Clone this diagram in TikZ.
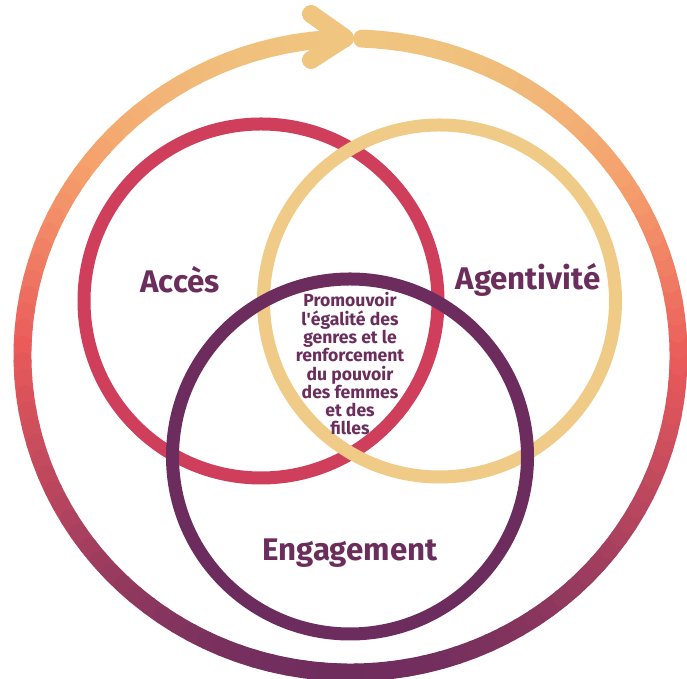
\documentclass[tikz,border=0pt]{standalone}
\usepackage{fontspec}
\setmainfont{Fira Sans}
\usepackage{tikz}

\definecolor{accesred}{HTML}{CF3F5C}
\definecolor{agentyellow}{HTML}{EFCB87}
\definecolor{engpurple}{HTML}{6D2C5E}
\definecolor{labelpurple}{HTML}{6B2D5C}
\definecolor{ringtop}{HTML}{F0C57F}

% one colour channel of the outer ring, piecewise from top (0) to bottom (1)
\newcommand{\ringchan}[6]{%
  \pgfmathsetmacro#1{(\f<0.22 ? #2+(#3-#2)*\f/0.22 : (\f<0.5 ? #3+(#4-#3)*(\f-0.22)/0.28 : (\f<0.75 ? #4+(#5-#4)*(\f-0.5)/0.25 : #5+(#6-#5)*(\f-0.75)/0.25)))/255}}

\tikzset{
  venn/.style={line width=7.4pt},
  ring/.style={line width=10.2pt, line cap=round},
  biglabel/.style={text=labelpurple, font=\fontsize{17.8}{20}\selectfont\bfseries},
  midlabel/.style={text=labelpurple, align=center, font=\fontsize{10}{10.4}\selectfont\bfseries}
}

\begin{document}
\begin{tikzpicture}
\useasboundingbox (0,0) rectangle (13.74,13.58);
\clip (0,0) rectangle (13.74,13.58);

% outer ring
\foreach \a in {91,94,...,445} {
  \pgfmathsetmacro\f{(1-sin(\a+1.5))/2}
  \ringchan{\ringR}{240}{245}{234}{180}{111}
  \ringchan{\ringG}{197}{159}{90}{68}{45}
  \ringchan{\ringB}{127}{108}{90}{94}{94}
  \definecolor{ringcol}{rgb}{\ringR,\ringG,\ringB}
  \draw[ring, ringcol] (7.01,6.47) ++(\a:6.56 and 6.34) arc[start angle=\a, delta angle=3, x radius=6.56, y radius=6.34];
}

\coordinate (tip) at (6.90,12.82);
\coordinate (armup) at (6.22,13.30);
\coordinate (armdown) at (6.22,12.38);
\draw[ring, line join=round, ringtop] (armup) -- (tip) -- (armdown);

\draw[venn, accesred] (5.22,7.56) circle (3.54cm);
\draw[venn, agentyellow] (8.79,7.56) circle (3.52cm);
\draw[venn, engpurple] (7.00,4.45) circle (3.55cm);

\node[biglabel] (acces) at (3.60,7.98) {Accès};
\node[biglabel] (agentivite) at (10.56,7.98) {Agentivité};
\node[biglabel] (engagement) at (7.00,2.52) {Engagement};
\node[midlabel] (centre) at (7.00,6.30) {Promouvoir\\l\textquotesingle égalité des\\genres et le\\renforcement\\du pouvoir\\des femmes\\et des\\filles};
\end{tikzpicture}
\end{document}
